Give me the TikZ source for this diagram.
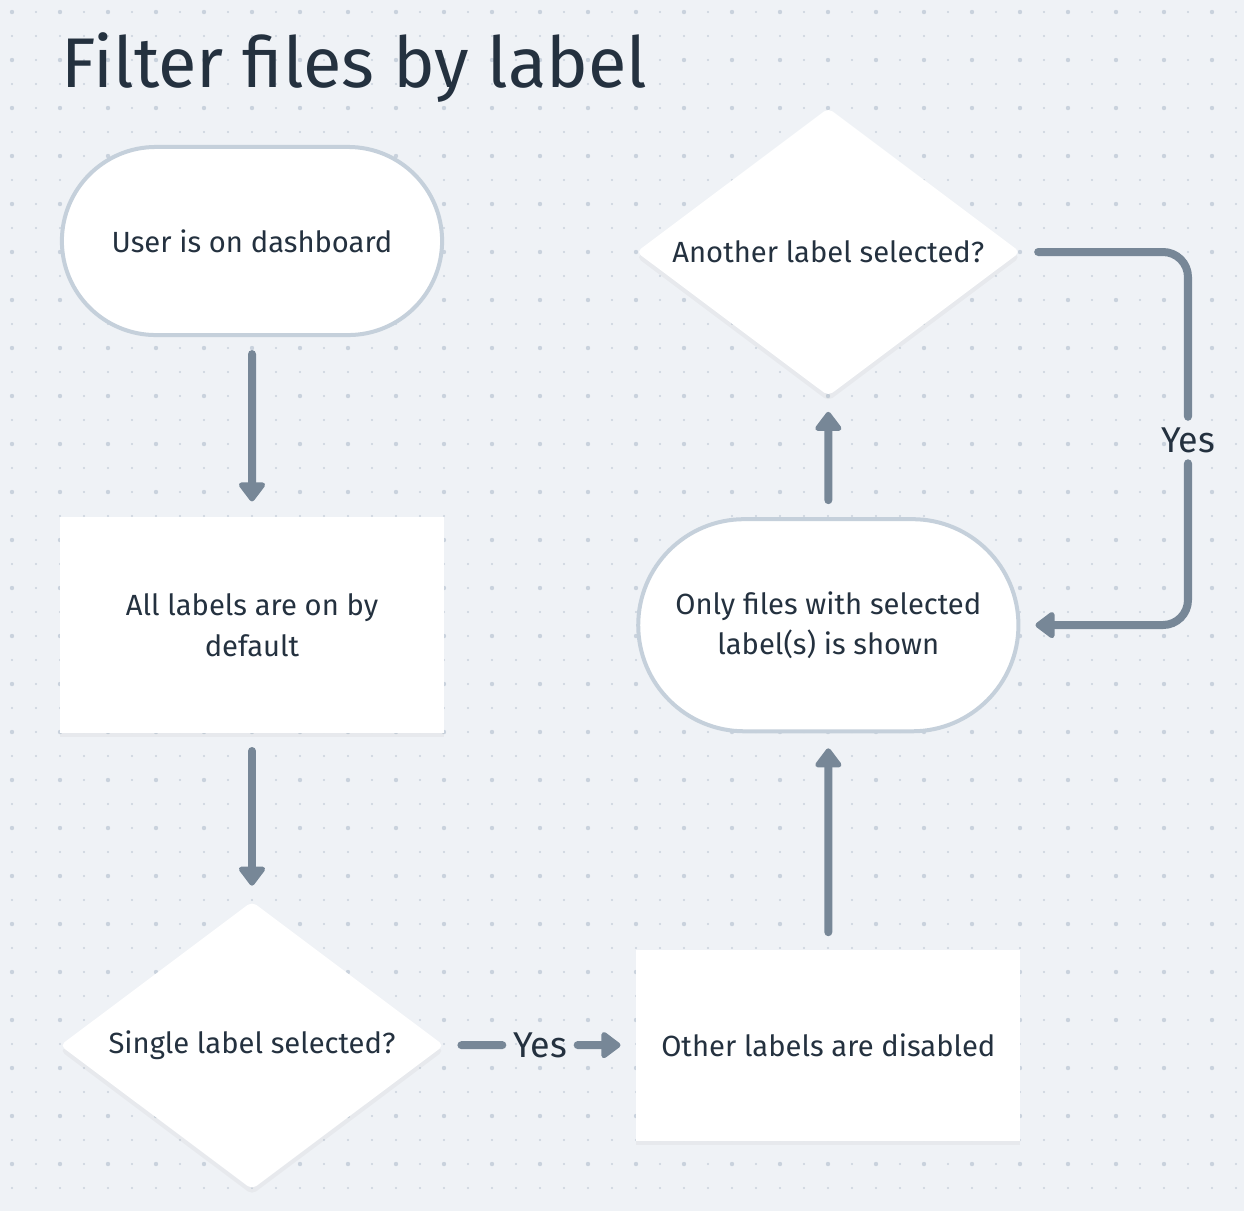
\documentclass[tikz,border=0pt]{standalone}
\usepackage{fontspec}
\setmainfont{Fira Sans}
\usepackage{tikz}
\usetikzlibrary{positioning}
\usetikzlibrary{shapes.geometric}
\usetikzlibrary{shapes.misc}
\usetikzlibrary{arrows.meta}
\usetikzlibrary{shadows}

\definecolor{bg}{HTML}{EFF2F6}
\definecolor{dotc}{HTML}{C9D2DD}
\definecolor{ink}{HTML}{24313F}
\definecolor{rim}{HTML}{C5D0DB}
\definecolor{edgec}{HTML}{778797}

\begin{document}
\begin{tikzpicture}[
            x = 0.01cm,
            y = -0.01cm,
            every node/.style = {text = ink},
            terminal/.style = {
                rounded rectangle,
                draw = rim,
                line width = 0.04cm,
                fill = white,
                minimum width = 3.8cm,
                minimum height = #1,
                inner sep = 0pt,
                align = center,
                font = \fontsize{8.3}{11.4}\selectfont
            },
            terminal/.default = 1.88cm,
            process/.style = {
                rectangle,
                fill = white,
                drop shadow = {shadow xshift = 0pt, shadow yshift = -1pt, opacity = 0.07},
                minimum width = 3.84cm,
                minimum height = #1,
                inner sep = 0pt,
                align = center,
                font = \fontsize{8.3}{11.4}\selectfont
            },
            process/.default = 2.16cm,
            decision/.style = {
                diamond,
                aspect = 1.34,
                fill = white,
                rounded corners = 1.5pt,
                drop shadow = {shadow xshift = 0pt, shadow yshift = -1.5pt, opacity = 0.07},
                minimum width = 3.84cm,
                minimum height = 2.88cm,
                inner sep = 0pt,
                font = \fontsize{8.3}{11.4}\selectfont
            },
            yes/.style = {
                inner sep = 0.1cm,
                font = \fontsize{10.2}{12}\selectfont
            },
            link/.style = {
                draw = edgec,
                line width = 0.08cm,
                line cap = round
            },
            linkin/.style = {link, shorten <= 0.17cm},
            linkout/.style = {
                link,
                -{Triangle[length = 0.21cm, width = 0.3cm, round]},
                shorten >= 0.15cm
            },
            flow/.style = {linkout, shorten <= 0.17cm},
            node distance = {38.4mm}
            ]
            % background and dot grid
            \fill[bg] (0,0) rectangle (1244,1211);
            \useasboundingbox (0,0) rectangle (1244,1211);
            \foreach \i in {0,...,51}
                \foreach \j in {0,...,49}
                    \fill[dotc] (12+24*\i, 12+24*\j) circle (0.012cm);
            \foreach \i in {0,...,25}
                \foreach \j in {0,...,24}
                    \fill[dotc] (12+48*\i, 12+48*\j) circle (0.022cm);

            \node[anchor = base west, inner sep = 0pt, font = \fontsize{20}{24}\selectfont] (title) at (61,87) {Filter files by label};

            \node[terminal] (1) at (252,241) {User is on dashboard};
            \node[process, below of=1] (2) {All labels are on by\\default};
            \node[decision, below of=2, node distance=42mm] (3) {Single label selected?};
            \node[process=1.91cm, right of=3, node distance=57.6mm] (4) {Other labels are disabled};
            \node[terminal=2.12cm, above of=4, node distance=42mm] (5) {Only files with selected\\label(s) is shown};
            \node[decision, above of=5, node distance=37.3mm] (6) {Another label selected?};

            \node[yes] (y1) at (540,1045) {Yes};
            \node[yes] (y2) at (1188,440) {Yes};
            \coordinate (c1) at (1188,252);
            \coordinate (c2) at (1188,625);

            \draw[flow] (1) -- (2);
            \draw[flow] (2) -- (3);
            \draw[linkin] (3) -- (y1);
            \draw[linkout] (y1) -- (4);
            \draw[flow] (4) -- (5);
            \draw[flow] (5) -- (6);
            \draw[linkin, rounded corners = 0.25cm] (6) -- (c1) -- (y2);
            \draw[linkout, rounded corners = 0.25cm] (y2) -- (c2) -- (5);
        \end{tikzpicture}
\end{document}
